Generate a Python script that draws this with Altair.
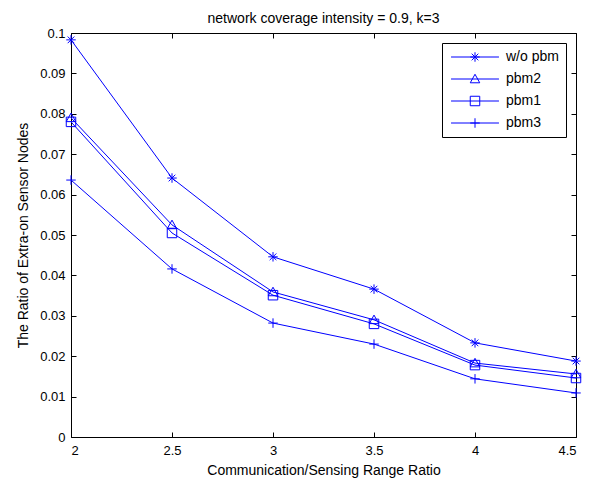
import altair as alt
import pandas as pd

x_vals = [2, 2.5, 3, 3.5, 4, 4.5]
series_names = ["w/o pbm", "pbm2", "pbm1", "pbm3"]
wo_pbm = [0.0983, 0.0641, 0.0446, 0.0366, 0.0233, 0.0188]
pbm2 = [0.0790, 0.0525, 0.0359, 0.0290, 0.0183, 0.0156]
pbm1 = [0.0780, 0.0505, 0.0351, 0.0280, 0.0178, 0.0146]
pbm3 = [0.0636, 0.0416, 0.0282, 0.0230, 0.0144, 0.0109]
x_ticks = [2, 2.5, 3, 3.5, 4, 4.5]
y_ticks = [0, 0.01, 0.02, 0.03, 0.04, 0.05, 0.06, 0.07, 0.08, 0.09, 0.1]

rows = []
for name, vals in zip(series_names, [wo_pbm, pbm2, pbm1, pbm3]):
    for xv, yv in zip(x_vals, vals):
        rows.append({"x": xv, "y": yv, "series": name})
df = pd.DataFrame(rows)

W, H = 505, 404
BLUE = "#0000ff"
FONT = "Liberation Sans"

marker_paths = [
    "M-1,0L1,0M0,-1L0,1M-0.7,-0.7L0.7,0.7M-0.7,0.7L0.7,-0.7",
    "M0,-1L1,0.8L-1,0.8Z",
    "M-1,-1L1,-1L1,1L-1,1Z",
    "M-1,0L1,0M0,-1L0,1",
]
L = 5.05
legend_paths = [p + f"M-{L},0L{L},0" for p in marker_paths]

xs = alt.Scale(domain=[2, 4.5], nice=False, zero=False)
ys = alt.Scale(domain=[0, 0.1], nice=False, zero=False)

main_x = alt.X("x:Q", scale=xs, axis=alt.Axis(
    values=x_ticks, format="~g", ticks=False, domain=False, grid=False,
    title="Communication/Sensing Range Ratio", labelPadding=7, titlePadding=6))
main_y = alt.Y("y:Q", scale=ys, axis=alt.Axis(
    values=y_ticks, format="~g", ticks=False, domain=False, grid=False,
    title="The Ratio of Extra-on Sensor Nodes", labelPadding=6, titlePadding=9))

base = alt.Chart(df)
lines = base.mark_line(color=BLUE, strokeWidth=1).encode(
    x=main_x, y=main_y, detail="series:N")
points = base.mark_point(filled=False, color=BLUE, strokeWidth=1, size=90, opacity=1).encode(
    x=main_x, y=main_y,
    shape=alt.Shape("series:N", scale=alt.Scale(domain=series_names, range=marker_paths), legend=None))
legend_layer = base.transform_filter("false").mark_point(
    filled=False, color=BLUE, strokeWidth=1, size=90, opacity=1).encode(
    x=main_x, y=main_y,
    shape=alt.Shape("series:N", scale=alt.Scale(domain=series_names, range=legend_paths),
                    legend=alt.Legend(title=None, orient="top-right", offset=10,
                                      symbolOffset=19, labelOffset=24, rowPadding=8,
                                      padding=7, strokeColor="black", fillColor="white",
                                      symbolStrokeColor=BLUE, symbolFillColor="transparent",
                                      symbolStrokeWidth=1, symbolSize=90,
                                      labelFontSize=14, labelFont=FONT, labelColor="black")))
inner = alt.layer(lines, points, legend_layer).resolve_scale(shape="independent")

def tick_layer(x_orient, y_orient):
    return base.mark_point(opacity=0).encode(
        x=alt.X("x:Q", scale=xs, axis=alt.Axis(
            orient=x_orient, offset=-H, values=x_ticks, labels=False, domain=False,
            grid=False, title=None, ticks=True, tickSize=5, tickColor="black")),
        y=alt.Y("y:Q", scale=ys, axis=alt.Axis(
            orient=y_orient, offset=-W, values=y_ticks, labels=False, domain=False,
            grid=False, title=None, ticks=True, tickSize=5, tickColor="black")),
    )

chart = alt.layer(inner, tick_layer("top", "right"), tick_layer("bottom", "left")).resolve_scale(
    x="independent", y="independent"
).properties(
    width=W, height=H,
    title=alt.TitleParams("network coverage intensity = 0.9, k=3", fontSize=14,
                          fontWeight="normal", font=FONT, color="black", offset=1),
    autosize=alt.AutoSizeParams(type="none"),
    padding={"left": 63, "top": 25, "right": 8, "bottom": 42},
).configure_view(stroke="black", strokeWidth=1).configure_axis(
    labelFont=FONT, titleFont=FONT, labelFontSize=13, titleFontSize=14,
    labelColor="black", titleColor="black", titleFontWeight="normal"
)

chart.save("out.html", embed_options={"renderer": "svg", "actions": False})
